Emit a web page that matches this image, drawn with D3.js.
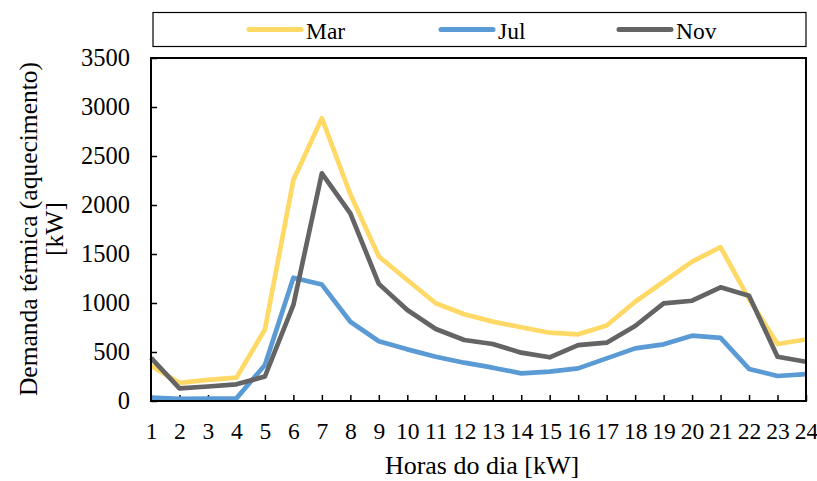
<!DOCTYPE html>
<html>
<head>
<meta charset="utf-8">
<script src="https://cdn.jsdelivr.net/npm/d3@7"></script>
<style>
  html, body { margin: 0; padding: 0; background: #fff; }
  svg { display: block; }
  svg text { font-family: "Liberation Serif", "Times New Roman", Times, "DejaVu Serif", serif; }
</style>
</head>
<body>
<svg id="chart" width="817" height="481"></svg>
<script>
// Hourly heating demand for three months
const hours = d3.range(1, 25);
const mar = [360, 185, 215, 238, 730, 2255, 2885, 2110, 1475, 1235, 997, 885, 810, 752, 697, 680, 770, 1013, 1217, 1422, 1570, 1040, 582, 628];
const jul = [35, 22, 25, 27, 367, 1258, 1188, 809, 610, 527, 452, 391, 340, 282, 299, 333, 435, 537, 578, 667, 645, 327, 255, 275];
const nov = [440, 128, 148, 170, 250, 980, 2323, 1915, 1195, 929, 735, 622, 582, 493, 446, 571, 595, 765, 997, 1023, 1160, 1073, 452, 401];
const yTicks = [0, 500, 1000, 1500, 2000, 2500, 3000, 3500];

const series = [
  { name: "Mar", values: mar, color: "#FFD966" },
  { name: "Jul", values: jul, color: "#5B9BD5" },
  { name: "Nov", values: nov, color: "#646464" }
];

const FONT = "'Liberation Serif', 'Times New Roman', Times, 'DejaVu Serif', serif";
const svg = d3.select("#chart");
const plot = { left: 151, right: 806, top: 58, bottom: 401 };

const x = d3.scaleLinear().domain([1, 24]).range([plot.left, plot.right]);
const y = d3.scaleLinear().domain([0, 3500]).range([plot.bottom, plot.top]);

// Y axis: inward ticks, labels on the left
const yAxis = d3.axisLeft(y).tickValues(yTicks).tickSize(-6).tickPadding(21).tickFormat(d3.format("d"));
const gy = svg.append("g").attr("transform", `translate(${plot.left},0)`).call(yAxis)
  .attr("font-family", FONT);
gy.select(".domain").remove();
gy.selectAll(".tick line").attr("stroke", "#000").attr("stroke-width", 1.5);
gy.selectAll(".tick text").attr("font-size", 24.5).attr("fill", "#000").attr("font-family", FONT);

// X axis: inward ticks, hour labels below
const xAxis = d3.axisBottom(x).tickValues(hours).tickSize(-6).tickPadding(21).tickFormat(d3.format("d"));
const gx = svg.append("g").attr("transform", `translate(0,${plot.bottom})`).call(xAxis)
  .attr("font-family", FONT);
gx.select(".domain").remove();
gx.selectAll(".tick line").attr("stroke", "#000").attr("stroke-width", 1.5);
gx.selectAll(".tick text").attr("font-size", 23.5).attr("fill", "#000").attr("font-family", FONT);

// Series lines
const line = d3.line().x((d, i) => x(hours[i])).y(d => y(d));
svg.append("g").selectAll("path").data(series).join("path")
  .attr("d", d => line(d.values))
  .attr("fill", "none")
  .attr("stroke", d => d.color)
  .attr("stroke-width", 4.7)
  .attr("stroke-linejoin", "round")
  .attr("stroke-linecap", "butt");

// Plot frame
svg.append("rect")
  .attr("x", plot.left).attr("y", plot.top)
  .attr("width", plot.right - plot.left).attr("height", plot.bottom - plot.top)
  .attr("fill", "none").attr("stroke", "#000").attr("stroke-width", 2);

// Legend box
svg.append("rect")
  .attr("x", 153).attr("y", 12.5).attr("width", 653).attr("height", 34)
  .attr("fill", "#fff").attr("stroke", "#000").attr("stroke-width", 1.2);

const legendX = [247, 439, 617];
const lg = svg.append("g").selectAll("g").data(series).join("g")
  .attr("transform", (d, i) => `translate(${legendX[i]},29.5)`);
lg.append("line").attr("x1", 2).attr("x2", 54).attr("y1", 0).attr("y2", 0)
  .attr("stroke", d => d.color).attr("stroke-width", 5).attr("stroke-linecap", "round");
lg.append("text").attr("x", 59).attr("y", 9).attr("font-size", 23.5).attr("fill", "#000")
  .attr("font-family", FONT).text(d => d.name);

// Axis titles
svg.append("text")
  .attr("x", 482).attr("y", 474)
  .attr("text-anchor", "middle").attr("font-size", 26).attr("fill", "#000")
  .attr("font-family", FONT).text("Horas do dia [kW]");

const yt = svg.append("text")
  .attr("transform", "translate(0,229) rotate(-90)")
  .attr("text-anchor", "middle").attr("font-size", 25.5).attr("fill", "#000")
  .attr("font-family", FONT);
yt.append("tspan").attr("x", 0).attr("y", 37).text("Demanda térmica (aquecimento)");
yt.append("tspan").attr("x", 0).attr("y", 63).text("[kW]");
</script>
</body>
</html>
